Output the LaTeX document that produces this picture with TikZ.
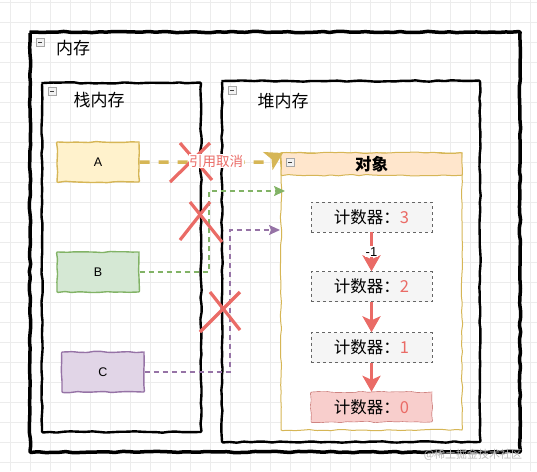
\documentclass[tikz,border=0pt]{standalone}
\usepackage{fontspec}
\setmainfont{Liberation Sans}
\newfontfamily\cjk{Noto Sans CJK SC}
\usetikzlibrary{arrows.meta,decorations.pathmorphing,calc}
\definecolor{ylwline}{HTML}{D6B656}
\definecolor{ylwfill}{HTML}{FFF2CC}
\definecolor{grnline}{HTML}{82B366}
\definecolor{grnfill}{HTML}{D5E8D4}
\definecolor{prpline}{HTML}{9673A6}
\definecolor{prpfill}{HTML}{E1D5E7}
\definecolor{redline}{HTML}{EA6B66}
\definecolor{redfill}{HTML}{F8CECC}
\definecolor{redborder}{HTML}{B85450}
\definecolor{headfill}{HTML}{FFE6CC}
\definecolor{cntfill}{HTML}{F5F5F5}
\definecolor{cntline}{HTML}{666666}
\tikzset{
  sketch/.style={decorate, decoration={random steps, segment length=7pt, amplitude=0.7pt}, rounded corners=1pt, line join=round},
  fold/.style={rectangle, draw=gray!70, fill=gray!10, minimum size=8pt, inner sep=0pt,
    path picture={\draw[black!75] ([xshift=2pt]path picture bounding box.west) -- ([xshift=-2pt]path picture bounding box.east);}},
  title/.style={font=\cjk\fontsize{17}{19}\selectfont},
  var/.style={rectangle, sketch, line width=1.4pt, minimum width=82pt, minimum height=40pt, font=\fontsize{12.5}{14}\selectfont},
  cnt/.style={rectangle, draw=cntline, fill=cntfill, dashed, minimum width=121pt, minimum height=30pt, font=\cjk\fontsize{16.5}{18}\selectfont},
  dec/.style={draw=redline, line width=3.5pt, -{Stealth[length=16pt, width=18pt, inset=4pt]}},
  cross/.style={draw=redline, line width=3.2pt},
  ref/.style={line width=1.5pt, dash pattern=on 5pt off 4pt, -{Stealth[length=11pt, width=10pt, inset=2pt]}}
}
\begin{document}
\begin{tikzpicture}[x=1pt, y=-1pt]
\pgfmathsetseed{7}
\useasboundingbox (0,0) rectangle (537,471);
\foreach \gx in {10,30,...,530} \draw[gray!15, line width=0.6pt] (\gx,0) -- (\gx,471);
\foreach \gy in {2,22,...,462} \draw[gray!15, line width=0.6pt] (0,\gy) -- (537,\gy);

\draw[sketch, line width=3.5pt] (30,32) rectangle (520,452);
\draw[sketch, line width=2.4pt] (42,83) rectangle (201,432);
\draw[sketch, line width=2.4pt] (222,81) rectangle (480,442);

\node[fold] (f1) at (40,42) {};
\node[fold] (f2) at (52,91) {};
\node[fold] (f3) at (232,90) {};
\node[title] (mem) at (73,48) {内存};
\node[title] (stack) at (99,100) {栈内存};
\node[title] (heap) at (283,101) {堆内存};

\node[var, draw=ylwline, fill=ylwfill] (a) at (98,162) {A};
\node[var, draw=grnline, fill=grnfill] (b) at (98,272) {B};
\node[var, draw=prpline, fill=prpfill] (c) at (103,372) {C};

\draw[sketch, draw=ylwline, fill=white, line width=1pt] (281,153) rectangle (462,430);
\node[rectangle, sketch, draw=ylwline, fill=headfill, line width=1pt, minimum width=181pt, minimum height=22pt,
  font=\cjk\bfseries\fontsize{16.5}{18}\selectfont] (obj) at (371.5,164) {对象};
\node[fold] (f4) at (290,162) {};

\node[cnt] (c3) at (371.5,217) {计数器：\textcolor{redline}{3}};
\node[cnt] (c2) at (371.5,286.5) {计数器：\textcolor{redline}{2}};
\node[cnt] (c1) at (371.5,347.5) {计数器：\textcolor{redline}{1}};
\node[cnt, sketch, solid, draw=redborder, fill=redfill] (c0) at (371.5,407) {计数器：\textcolor{redline}{0}};

\draw[dec] (c3) -- node[fill=white, inner sep=1pt, font=\fontsize{13}{14}\selectfont] {-1} (c2);
\draw[dec] (c2) -- (c1);
\draw[dec] (c1) -- (c0);

\coordinate (at) at (283,153);
\coordinate (bt) at (285,191);
\coordinate (ct) at (280,230);
\draw[draw=ylwline, line width=3.5pt, dash pattern=on 10pt off 9pt, -{Stealth[length=17pt, width=20pt, inset=4pt]}]
  (a.east) -- ($(at |- a.east)+(-17,0)$) -- (at);
\draw[ref, draw=grnline] (b.east) -| ($(bt)+(-76,0)$) -- (bt);
\draw[ref, draw=prpline] (c.east) -| ($(ct)+(-50,0)$) -- (ct);

\draw[cross] (170,182) -- (210,143);
\draw[cross] (180,143) -- (212,180);
\draw[cross] (180,240) -- (210,202);
\draw[cross] (190,202) -- (222,242);
\draw[cross] (200,332) -- (240,292);
\draw[cross] (210,292) -- (240,330);

\node[fill=white, inner sep=0.5pt, text=redline, font=\cjk\fontsize{13.5}{15}\selectfont] (cancel) at (216,161) {引用取消};

\node[text=gray!55, font=\cjk\fontsize{11}{13}\selectfont] (mark) at (473,455) {@稀土掘金技术社区};
\end{tikzpicture}
\end{document}
